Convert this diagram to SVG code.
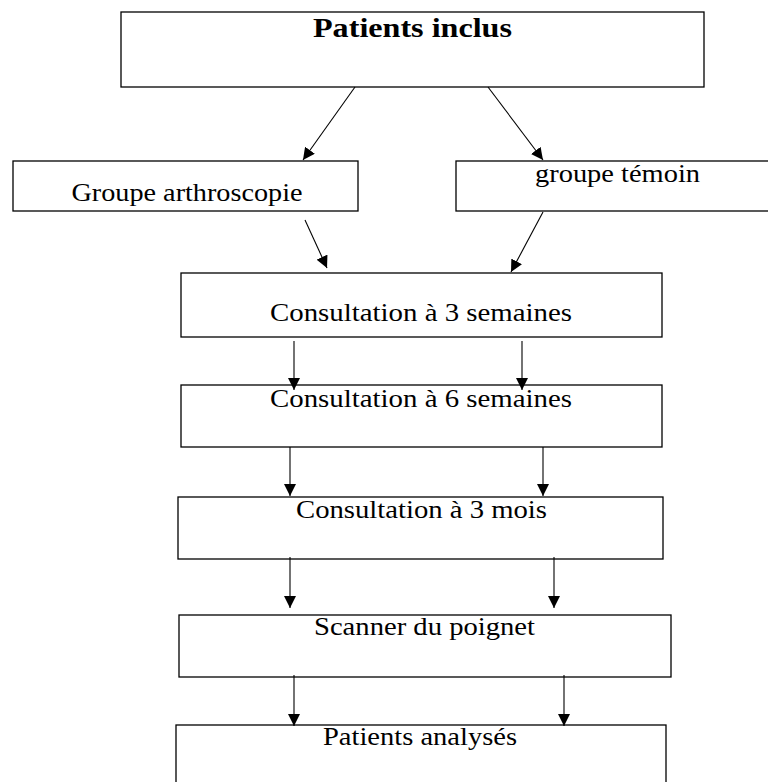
<svg xmlns="http://www.w3.org/2000/svg" width="768" height="782" viewBox="0 0 768 782">
<style>
.box{fill:#fff;stroke:#000;stroke-width:1.3}
.t{font-family:"Liberation Serif","Times New Roman",serif;font-size:25px;fill:#000;text-anchor:middle}
.b{font-weight:bold;font-size:28px}
.c{stroke:#000;stroke-width:1.1;fill:none;marker-end:url(#ah)}
</style>
<defs>
<marker id="ah" markerUnits="userSpaceOnUse" viewBox="0 0 12 12" refX="12" refY="6" markerWidth="12" markerHeight="12" orient="auto">
<path d="M0,0 L12,6 L0,12 z" fill="#000"/>
</marker>
</defs>
<rect width="768" height="782" fill="#fff"/>
<g id="n-inclus"><rect class="box" x="121" y="12" width="583" height="75"/><text class="t b" x="412.5" y="37" textLength="199" lengthAdjust="spacingAndGlyphs">Patients inclus</text></g>
<g id="n-arthro"><rect class="box" x="13" y="161" width="345" height="50"/><text class="t" x="187" y="201" textLength="231" lengthAdjust="spacingAndGlyphs">Groupe arthroscopie</text></g>
<g id="n-temoin"><rect class="box" x="456" y="161" width="323" height="50"/><text class="t" x="617.5" y="182" textLength="165" lengthAdjust="spacingAndGlyphs">groupe témoin</text></g>
<g id="n-c3s"><rect class="box" x="181" y="273" width="481" height="64"/><text class="t" x="421" y="321" textLength="302" lengthAdjust="spacingAndGlyphs">Consultation à 3 semaines</text></g>
<g id="n-c6s"><rect class="box" x="181" y="385" width="481" height="62"/><text class="t" x="421" y="407" textLength="302" lengthAdjust="spacingAndGlyphs">Consultation à 6 semaines</text></g>
<g id="n-c3m"><rect class="box" x="178" y="497" width="485" height="62"/><text class="t" x="421.5" y="518" textLength="251" lengthAdjust="spacingAndGlyphs">Consultation à 3 mois</text></g>
<g id="n-scan"><rect class="box" x="179" y="615" width="492" height="62"/><text class="t" x="424.5" y="635" textLength="221" lengthAdjust="spacingAndGlyphs">Scanner du poignet</text></g>
<g id="n-analyses"><rect class="box" x="176" y="725" width="490" height="70"/><text class="t" x="420" y="745" textLength="194" lengthAdjust="spacingAndGlyphs">Patients analysés</text></g>
<g id="connectors">
<line class="c" x1="355" y1="87" x2="303" y2="160"/>
<line class="c" x1="488" y1="87" x2="543" y2="160"/>
<line class="c" x1="305" y1="220" x2="327" y2="268"/>
<line class="c" x1="543" y1="212" x2="511" y2="272"/>
<line class="c" x1="294" y1="341" x2="294" y2="390"/>
<line class="c" x1="522" y1="341" x2="522" y2="390"/>
<line class="c" x1="290" y1="447" x2="290" y2="496"/>
<line class="c" x1="543" y1="447" x2="543" y2="496"/>
<line class="c" x1="290" y1="557" x2="290" y2="608"/>
<line class="c" x1="554" y1="557" x2="554" y2="608"/>
<line class="c" x1="294" y1="675" x2="294" y2="726"/>
<line class="c" x1="564" y1="675" x2="564" y2="726"/>
</g>
</svg>
